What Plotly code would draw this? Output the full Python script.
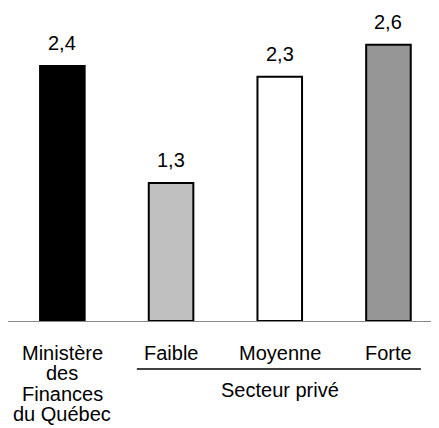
import plotly.graph_objects as go

categories = ["Ministère des Finances du Québec", "Faible", "Moyenne", "Forte"]
values = [2.4, 1.3, 2.3, 2.6]
value_labels = ["2,4", "1,3", "2,3", "2,6"]
bar_colors = ["#000000", "#c0c0c0", "#ffffff", "#969696"]
tick_lines = [["Ministère", "des", "Finances", "du Québec"], ["Faible"], ["Moyenne"], ["Forte"]]
group_label = "Secteur privé"

FONT = "Liberation Sans, Arial, sans-serif"
xpos = list(range(len(categories)))

fig = go.Figure(go.Bar(
    x=xpos, y=values, width=0.41,
    marker=dict(color=bar_colors, line=dict(color="#000000", width=2)),
    hoverinfo="skip",
))

ann = []
# value labels above bars
for x, v, t in zip(xpos, values, value_labels):
    ann.append(dict(x=x, y=v, xref="x", yref="y", text=t, showarrow=False,
                    yanchor="bottom", yshift=10, font=dict(size=20, color="#000")))
# category labels, one annotation per line for tight spacing
for x, lines in zip(xpos, tick_lines):
    for i, line in enumerate(lines):
        ann.append(dict(x=x, y=0, xref="x", yref="y", text=line, showarrow=False,
                        yanchor="top", yshift=-19 - 20.3 * i,
                        font=dict(size=20, color="#000")))
ann.append(dict(x=2, y=0, xref="x", yref="y", text=group_label, showarrow=False,
                yanchor="top", yshift=-56, font=dict(size=20, color="#000")))

# page body has an 8px margin, so the figure is 8px smaller than the window
fig.update_layout(
    width=431, height=420,
    margin=dict(l=0, r=0, t=12, b=107),
    paper_bgcolor="white", plot_bgcolor="white",
    font=dict(family=FONT, size=20, color="#000"),
    showlegend=False,
    annotations=ann,
    shapes=[dict(type="line", xref="paper", yref="paper",
                 x0=0.299, x1=0.958, y0=-0.1595, y1=-0.1595,
                 line=dict(color="#000000", width=1.5))],
    xaxis=dict(range=[-0.5, 3.465], showticklabels=False, ticks="",
               showgrid=False, zeroline=False, showline=True,
               linecolor="#868686", linewidth=1, fixedrange=True),
    yaxis=dict(range=[0, 2.833], visible=False, showgrid=False,
               zeroline=False, fixedrange=True),
)

fig.write_html("out.html")
